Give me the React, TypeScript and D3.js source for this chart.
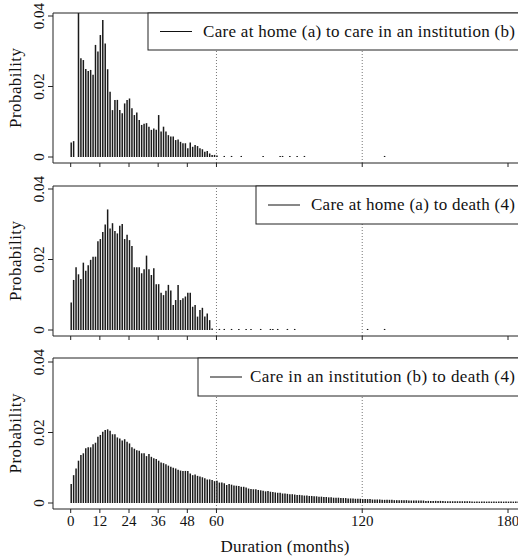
import React from "react";
import * as d3 from "d3";

// ---------- data ----------
const xTicks = [0, 12, 24, 36, 48, 60, 120, 180];
const yTicks = [0, 0.02, 0.04];
const yTickLabels = ["0", "0.02", "0.04"];
const refMonths = [60, 120];

const legend1 = "Care at home (a) to care in an institution (b)";
const legend2 = "Care at home (a) to death (4)";
const legend3 = "Care in an institution (b) to death (4)";
const xTitle = "Duration (months)";
const yTitle = "Probability";

// panel 1: months 0..60
const homeToInst = [
  0.0041, 0.0045, 0, 0.065, 0.028, 0.0275, 0.025, 0.0244, 0.0247, 0.0233,
  0.0318, 0.0299, 0.0346, 0.0389, 0.0322, 0.0249, 0.0185, 0.0133, 0.0162, 0.0162,
  0.0133, 0.0124, 0.0152, 0.0162, 0.0166, 0.0138, 0.0119, 0.0126, 0.0105, 0.0091,
  0.0094, 0.0096, 0.0086, 0.0077, 0.0081, 0.0077, 0.0119, 0.0072, 0.0086, 0.0072,
  0.0062, 0.0058, 0.0058, 0.0048, 0.005, 0.0043, 0.0039, 0.0039, 0.0025, 0.0041,
  0.0029, 0.0034, 0.0031, 0.0025, 0.0022, 0.0015, 0.0017, 0.001, 0.0006, 0.0006,
  0.0004,
];
const homeToInstSparseMonths = [63, 66, 70, 79, 86, 87, 90, 93, 96, 129];

// panel 2: months 0..58
const homeToDeath = [
  0.0078, 0.0142, 0.0178, 0.0158, 0.0145, 0.0191, 0.0168, 0.0184, 0.0199, 0.0208,
  0.0208, 0.0252, 0.0258, 0.0278, 0.0299, 0.0342, 0.0288, 0.0303, 0.0281, 0.0274,
  0.0296, 0.0301, 0.0258, 0.027, 0.0255, 0.0238, 0.0178, 0.0178, 0.0178, 0.0161,
  0.0172, 0.0211, 0.0172, 0.0156, 0.0175, 0.013, 0.013, 0.0106, 0.0099, 0.0111,
  0.0128, 0.0112, 0.0071, 0.0085, 0.0128, 0.0085, 0.009, 0.0095, 0.0106, 0.0106,
  0.0066, 0.0071, 0.0038, 0.0057, 0.0063, 0.0038, 0.0047, 0.0028, 0.0004,
];
const homeToDeathSparseMonths = [61, 63, 66, 69, 72, 74, 78, 82, 83, 85, 89, 92, 122, 129];

// panel 3: months 0..186
const instToDeath = [
  0.0054, 0.0079, 0.0098, 0.012, 0.0136, 0.0141, 0.0155, 0.0158, 0.0158, 0.0167,
  0.0171, 0.0188, 0.0193, 0.0202, 0.0207, 0.0209, 0.0205, 0.0195, 0.0195, 0.0186,
  0.0183, 0.0177, 0.0181, 0.0174, 0.0169, 0.0158, 0.0154, 0.015, 0.0148, 0.0141,
  0.0141, 0.0133, 0.0139, 0.0131, 0.0127, 0.0125, 0.012, 0.0115, 0.0113, 0.011,
  0.0106, 0.0103, 0.01, 0.0098, 0.0094, 0.0092, 0.0091, 0.0091, 0.0091, 0.0084,
  0.0079, 0.0081, 0.0077, 0.0075, 0.0073, 0.007, 0.0067, 0.0067, 0.0065, 0.0062,
  0.0063, 0.0058, 0.0058, 0.0056, 0.0051, 0.0054, 0.0052, 0.005, 0.0049, 0.0048,
  0.0046, 0.0046, 0.0044, 0.0041, 0.004, 0.0039, 0.0039, 0.0037, 0.0036, 0.0035,
  0.0033, 0.0034, 0.0032, 0.0031, 0.003, 0.0029, 0.0029, 0.0027, 0.0027, 0.0026,
  0.0025, 0.0025, 0.0024, 0.0023, 0.0023, 0.0022, 0.0021, 0.0021, 0.002, 0.002,
  0.0019, 0.0019, 0.0018, 0.0018, 0.0017, 0.0017, 0.0016, 0.0016, 0.0015, 0.0015,
  0.0015, 0.0014, 0.0014, 0.0014, 0.0013, 0.0013, 0.0013, 0.0012, 0.0012, 0.0012,
  0.0011, 0.0011, 0.0011, 0.0011, 0.001, 0.001, 0.001, 0.001, 0.0009, 0.0009,
  0.0009, 0.0009, 0.0009, 0.0008, 0.0008, 0.0008, 0.0008, 0.0008, 0.0008, 0.0007,
  0.0007, 0.0007, 0.0007, 0.0007, 0.0007, 0.0007, 0.0006, 0.0006, 0.0006, 0.0006,
  0.0006, 0.0006, 0.0006, 0.0006, 0.0005, 0.0005, 0.0005, 0.0005, 0.0005, 0.0005,
  0.0005, 0.0005, 0.0005, 0.0005, 0.0005, 0.0004, 0.0004, 0.0004, 0.0004, 0.0004,
  0.0004, 0.0004, 0.0004, 0.0004, 0.0004, 0.0004, 0.0004, 0.0004, 0.0004, 0.0004,
  0.0004, 0.0004, 0.0004, 0.0004, 0.0004, 0.0004, 0.0004,
];
const sparseValue = 0.0003;

// ---------- layout ----------
const W = 518;
const H = 559;
const FONT = "'Liberation Serif', 'Times New Roman', serif";
const leftX = 53;
const rightX = 540;

type Panel = {
  top: number;
  bottom: number;
  y0: number;
  y04: number;
  values: number[];
  sparse: number[];
  legend: string;
  legendX: number;
  legendBottom: number;
  textX: number;
};

const panels: Panel[] = [
  { top: 13, bottom: 163, y0: 157, y04: 16, values: homeToInst, sparse: homeToInstSparseMonths, legend: legend1, legendX: 148, legendBottom: 50, textX: 203 },
  { top: 186, bottom: 336, y0: 330, y04: 189, values: homeToDeath, sparse: homeToDeathSparseMonths, legend: legend2, legendX: 256, legendBottom: 224, textX: 311 },
  { top: 358, bottom: 509, y0: 503, y04: 362, values: instToDeath, sparse: [], legend: legend3, legendX: 198, legendBottom: 396, textX: 250 },
];

const x = d3.scaleLinear().domain([0, 180]).range([70.7, 508]);

function PanelView({ p, idx, last }: { p: Panel; idx: number; last: boolean }) {
  const y = d3.scaleLinear().domain([0, 0.04]).range([p.y0, p.y04]);
  const bars = p.values
    .map((v, m) => ({ m, v }))
    .filter((d) => d.v > 0)
    .concat(p.sparse.map((m) => ({ m, v: sparseValue })));
  const clipId = `clip${idx}`;
  const legendMid = (p.top + p.legendBottom) / 2;
  return (
    <g>
      <defs>
        <clipPath id={clipId}>
          <rect x={leftX} y={p.top} width={rightX - leftX} height={p.bottom - p.top} />
        </clipPath>
      </defs>
      {refMonths.map((m) => (
        <line key={m} x1={x(m)} x2={x(m)} y1={p.bottom} y2={p.top} stroke="#777" strokeWidth={1} strokeDasharray="1,2" />
      ))}
      <g clipPath={`url(#${clipId})`}>
        {bars.map((d) => (
          <line key={d.m} x1={x(d.m) + 0.5} x2={x(d.m) + 0.5} y1={p.y0} y2={y(d.v)} stroke="#1a1a1a" strokeWidth={1.5} />
        ))}
      </g>
      <line x1={leftX} x2={rightX} y1={p.top} y2={p.top} stroke="#222" />
      <line x1={leftX} x2={rightX} y1={p.bottom} y2={p.bottom} stroke="#222" />
      <line x1={leftX} x2={leftX} y1={p.top} y2={p.bottom} stroke="#222" />
      <rect x={p.legendX} y={p.top} width={rightX - p.legendX} height={p.legendBottom - p.top} fill="white" stroke="#222" />
      <line x1={p.legendX + 12} x2={p.legendX + 44} y1={legendMid} y2={legendMid} stroke="#111" strokeWidth={1} />
      <text
        x={p.textX}
        y={legendMid + 5}
        fontFamily={FONT}
        fontSize={17}
        fill="#111"
        textLength={515 - p.textX}
        lengthAdjust="spacing"
      >
        {p.legend}
      </text>
      {xTicks.map((t) => (
        <line key={t} x1={x(t)} x2={x(t)} y1={p.bottom} y2={p.bottom + 4} stroke="#222" />
      ))}
      {last &&
        xTicks.map((t) => (
          <text key={"l" + t} x={x(t)} y={526} textAnchor="middle" fontFamily={FONT} fontSize={15} fill="#111">
            {t}
          </text>
        ))}
      {yTicks.map((t, i) => (
        <g key={t}>
          <line x1={leftX - 5} x2={leftX} y1={y(t)} y2={y(t)} stroke="#222" />
          <text transform={`translate(44,${y(t)}) rotate(-90)`} textAnchor="middle" fontFamily={FONT} fontSize={15} fill="#111">
            {yTickLabels[i]}
          </text>
        </g>
      ))}
      <text
        transform={`translate(21,${(p.top + p.bottom) / 2}) rotate(-90)`}
        textAnchor="middle"
        fontFamily={FONT}
        fontSize={17}
        fill="#111"
        textLength={80}
        lengthAdjust="spacing"
      >
        {yTitle}
      </text>
    </g>
  );
}

export default function App() {
  return (
    <svg width={W} height={H} style={{ position: "absolute", left: 0, top: 0, background: "white" }}>
      <rect x={0} y={0} width={W} height={H} fill="white" />
      {panels.map((p, i) => (
        <PanelView key={i} p={p} idx={i} last={i === panels.length - 1} />
      ))}
      <text
        x={285}
        y={552}
        textAnchor="middle"
        fontFamily={FONT}
        fontSize={17}
        fill="#111"
        textLength={129}
        lengthAdjust="spacing"
      >
        {xTitle}
      </text>
    </svg>
  );
}
